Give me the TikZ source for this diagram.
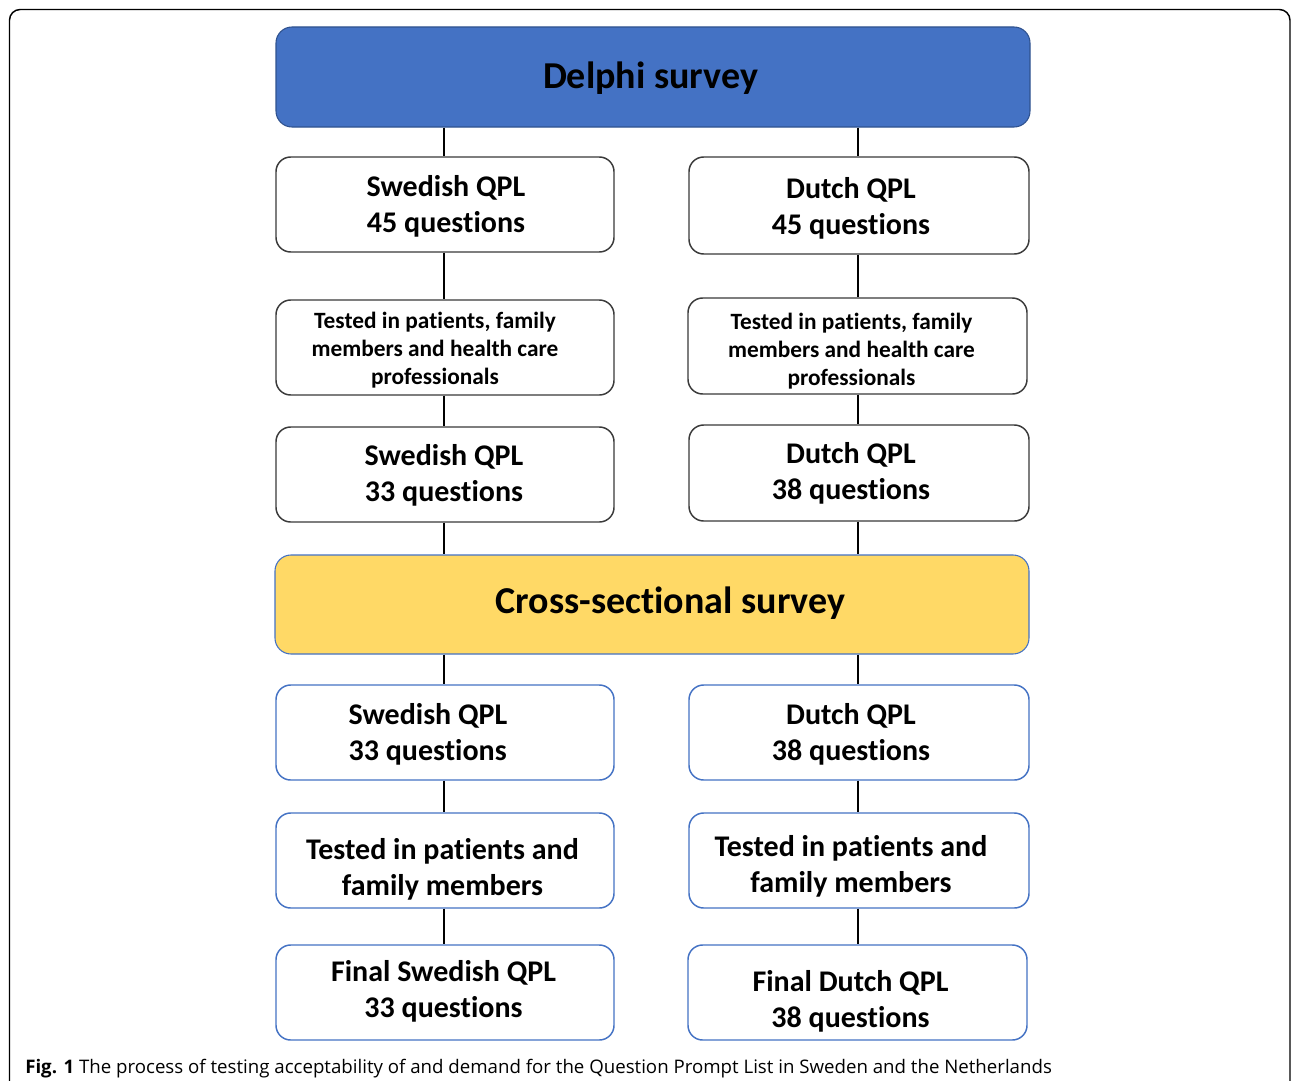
\documentclass[tikz,border=0pt]{standalone}
\usepackage{fontspec}
\setmainfont{Carlito}[Ligatures=NoCommon]
\newfontfamily\capfont{Open Sans}
\usetikzlibrary{fit}
\definecolor{dblue}{HTML}{4472C4}
\definecolor{dborder}{HTML}{2F528F}
\definecolor{cyellow}{HTML}{FFD966}
\definecolor{gborder}{HTML}{3A3A3A}
\begin{document}
\begin{tikzpicture}[x=0.75pt,y=-0.75pt,
  box/.style={draw=gborder, line width=1.1pt, rounded corners=11pt, fill=white, inner sep=0pt},
  bbox/.style={box, draw=dblue},
  bigtxt/.style={font=\bfseries\fontsize{28.5}{34}\selectfont, inner sep=0pt, yshift=-1.5pt},
  txt/.style={font=\bfseries\fontsize{22.5}{27}\selectfont, align=center, inner sep=0pt, yshift=-1.5pt},
  smalltxt/.style={font=\bfseries\fontsize{17.5}{21}\selectfont, align=center, inner sep=0pt, yshift=-1.5pt},
  link/.style={line width=1.9pt, black}]
\useasboundingbox (0,0) rectangle (1292,1081);
\fill[white] (0,0) rectangle (1292,1081);
\draw[line width=1.1pt, rounded corners=8pt] (9.5,9.5) rectangle (1290,1100);

% Delphi
\node[box, fill=dblue, draw=dborder, line width=0.8pt, rounded corners=12pt, fit={(276,27) (1030,127)}] (delphi) {};
\node[bigtxt] (delphit) at (650.5,76) {Delphi survey};

% upper left
\node[box, fit={(276,157) (614,252)}] (s1) {};
\node[txt] (s1t) at (446,204) {Swedish QPL\\45 questions};
\node[box, fit={(276,300) (614,395)}] (s2) {};
\node[smalltxt] (s2t) at (435,348) {Tested in patients, family\\members and health care\\professionals};
\node[box, fit={(276,427) (614,522)}] (s3) {};
\node[txt] (s3t) at (444,473) {Swedish QPL\\33 questions};

% upper right
\node[box, fit={(689,157) (1029,254)}] (d1) {};
\node[txt] (d1t) at (851,206) {Dutch QPL\\45 questions};
\node[box, fit={(688,298) (1027,394)}] (d2) {};
\node[smalltxt] (d2t) at (851.5,349.5) {Tested in patients, family\\members and health care\\professionals};
\node[box, fit={(689,425) (1029,521)}] (d3) {};
\node[txt] (d3t) at (851,471.5) {Dutch QPL\\38 questions};

% cross-sectional
\node[bbox, fill=cyellow, line width=0.8pt, rounded corners=12pt, fit={(275,555) (1029,654)}] (cross) {};
\node[bigtxt] (crosst) at (670.5,601) {Cross-sectional survey};

% lower left
\node[bbox, fit={(276,685) (614,780)}] (l1) {};
\node[txt, align=left] (l1t) at (428,732) {Swedish QPL\\33 questions};
\node[bbox, fit={(276,813) (614,908)}] (l2) {};
\node[txt] (l2t) at (442.5,867) {Tested in patients and\\family members};
\node[bbox, fit={(276,945) (614,1040)}] (l3) {};
\node[txt] (l3t) at (443.5,989.5) {Final Swedish QPL\\33 questions};

% lower right
\node[bbox, fit={(689,685) (1029,780)}] (r1) {};
\node[txt] (r1t) at (851,732) {Dutch QPL\\38 questions};
\node[bbox, fit={(689,813) (1029,908)}] (r2) {};
\node[txt] (r2t) at (851,864) {Tested in patients and\\family members};
\node[bbox, fit={(688,945) (1027,1040)}] (r3) {};
\node[txt] (r3t) at (850.5,999.5) {Final Dutch QPL\\38 questions};

% connectors
\coordinate (lx) at (444,0);
\coordinate (rx) at (858,0);
\draw[link] (delphi.south -| lx) -- (s1.north -| lx);
\draw[link] (s1.south -| lx) -- (s2.north -| lx);
\draw[link] (s2.south -| lx) -- (s3.north -| lx);
\draw[link] (s3.south -| lx) -- (cross.north -| lx);
\draw[link] (cross.south -| lx) -- (l1.north -| lx);
\draw[link] (l1.south -| lx) -- (l2.north -| lx);
\draw[link] (l2.south -| lx) -- (l3.north -| lx);
\draw[link] (delphi.south -| rx) -- (d1.north -| rx);
\draw[link] (d1.south -| rx) -- (d2.north -| rx);
\draw[link] (d2.south -| rx) -- (d3.north -| rx);
\draw[link] (d3.south -| rx) -- (cross.north -| rx);
\draw[link] (cross.south -| rx) -- (r1.north -| rx);
\draw[link] (r1.south -| rx) -- (r2.north -| rx);
\draw[link] (r2.south -| rx) -- (r3.north -| rx);

% caption
\node[anchor=base west, inner sep=0pt, font=\capfont\fontsize{14}{17}\selectfont] (cap) at (25,1073)
  {\textbf{Fig. 1} The process of testing acceptability of and demand for the Question Prompt List in Sweden and the Netherlands};
\end{tikzpicture}
\end{document}
